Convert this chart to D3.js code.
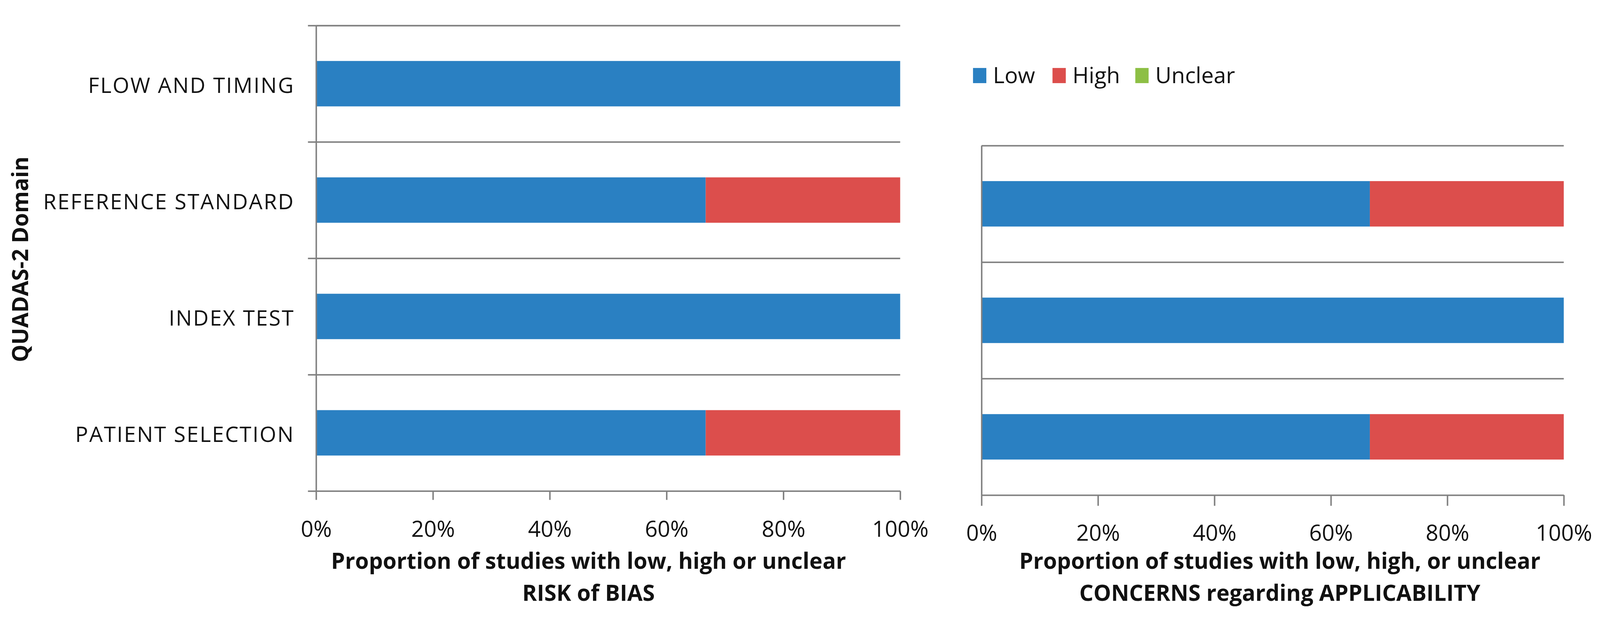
<!DOCTYPE html>
<html>
<head>
<meta charset="utf-8">
<script src="https://cdn.jsdelivr.net/npm/d3@7"></script>
<style>
  html, body { margin: 0; padding: 0; background: #fff; overflow: hidden; }
  svg { display: block; width: 100vw; height: 100vh; }
  text { font-family: "Open Sans", sans-serif; fill: #111; }
</style>
</head>
<body>
<svg></svg>
<script>
// data, top row first
const biasDomains = ['FLOW AND TIMING', 'REFERENCE STANDARD', 'INDEX TEST', 'PATIENT SELECTION']
const biasLow = [100, 66.7, 100, 66.7]
const biasHigh = [0, 33.3, 0, 33.3]
const biasUnclear = [0, 0, 0, 0]

const applDomains = ['REFERENCE STANDARD', 'INDEX TEST', 'PATIENT SELECTION']
const applLow = [66.7, 100, 66.7]
const applHigh = [33.3, 0, 33.3]
const applUnclear = [0, 0, 0]

const seriesNames = ['Low', 'High', 'Unclear']
const seriesColors = ['#2a80c2', '#dc4e4c', '#8dbf45']
const xTicks = [0, 20, 40, 60, 80, 100]

// 画布：用 viewBox，窗口多大都能完整显示
let width = 4328
let height = 1624
let svg = d3.select('svg')
    .attr('viewBox', '0 0 ' + width + ' ' + height)
    .attr('preserveAspectRatio', 'xMidYMid meet')
svg.append('rect').attr('width', width).attr('height', height).attr('fill', '#fff')

let color = d3.scaleOrdinal().domain(seriesNames).range(seriesColors)
let gray = '#808080'

function panel(opt) {
    let rows = opt.domains.map((d, i) => ({
        domain: d, Low: opt.low[i], High: opt.high[i], Unclear: opt.unclear[i]
    }))
    let stacked = d3.stack().keys(seriesNames)(rows)

    let x = d3.scaleLinear().domain([0, 100]).range([opt.left, opt.right])
    let y = d3.scaleBand().domain(opt.domains).range([opt.top, opt.bottom])
        .paddingInner(0.61).paddingOuter(0.305)
    // band boundaries for grid lines
    let yb = d3.scaleLinear().domain([0, opt.domains.length]).range([opt.top, opt.bottom])

    let g = svg.append('g')

    // horizontal grid lines at band edges
    g.append('g')
        .attr('transform', 'translate(' + opt.left + ',0)')
        .call(d3.axisLeft(yb).tickValues(d3.range(opt.domains.length)).tickFormat('')
            .tickSize(-(opt.right - opt.left)).tickSizeOuter(0))
        .call(s => s.select('.domain').remove())
        .call(s => s.selectAll('line').attr('stroke', gray).attr('stroke-width', 4))

    // bars
    g.selectAll('.series').data(stacked).enter()
        .append('g')
        .attr('fill', d => color(d.key))
        .selectAll('rect').data(d => d).enter()
        .append('rect')
        .attr('x', d => x(d[0]))
        .attr('width', d => x(d[1]) - x(d[0]))
        .attr('y', d => y(d.data.domain))
        .attr('height', y.bandwidth())

    // left axis line with outward ticks
    g.append('g')
        .attr('transform', 'translate(' + opt.left + ',0)')
        .call(d3.axisLeft(yb).tickValues(d3.range(opt.domains.length + 1))
            .tickFormat('').tickSize(opt.yTick).tickSizeOuter(0))
        .call(s => s.selectAll('line, path').attr('stroke', gray).attr('stroke-width', 4))

    // bottom axis
    g.append('g')
        .attr('transform', 'translate(0,' + opt.bottom + ')')
        .call(d3.axisBottom(x).tickValues(xTicks).tickFormat(d => d + '%')
            .tickSize(opt.xTick).tickSizeOuter(0).tickPadding(opt.labelY - opt.xTick))
        .call(s => s.selectAll('line, path').attr('stroke', gray).attr('stroke-width', 4))
        .call(s => s.selectAll('text').attr('font-size', 60).attr('fill', '#111')
            .attr('font-family', '"Open Sans", sans-serif'))

    // category labels
    if (opt.labels) {
        g.append('g')
            .attr('transform', 'translate(' + (opt.left - 58) + ',6)')
            .call(d3.axisLeft(y).tickSize(0).tickPadding(0))
            .call(s => s.select('.domain').remove())
            .call(s => s.selectAll('text').attr('font-size', 58).attr('fill', '#111')
                .attr('letter-spacing', 3)
                .attr('font-family', '"Open Sans", sans-serif'))
    }

    // axis title
    let t = g.append('text')
        .attr('text-anchor', 'middle')
        .attr('font-weight', 'bold')
        .attr('font-size', 60)
    t.append('tspan').attr('x', opt.titleX).attr('y', 1494).text(opt.title[0])
    t.append('tspan').attr('x', opt.titleX).attr('y', 1580).text(opt.title[1])
}

panel({
    domains: biasDomains, low: biasLow, high: biasHigh, unclear: biasUnclear,
    left: 855, right: 2435, top: 23, bottom: 1283,
    yTick: 22, xTick: 24, labelY: 81, labels: true, titleX: 1592,
    title: ['Proportion of studies with low, high or unclear', 'RISK  of BIAS']
})

panel({
    domains: applDomains, low: applLow, high: applHigh, unclear: applUnclear,
    left: 2655, right: 4230, top: 348, bottom: 1294,
    yTick: 0, xTick: 29, labelY: 81, labels: false, titleX: 3462,
    title: ['Proportion of studies with low, high, or unclear', 'CONCERNS regarding APPLICABILITY']
})

// y axis title
svg.append('text')
    .attr('transform', 'translate(76,656) rotate(-90)')
    .attr('text-anchor', 'middle')
    .attr('font-weight', 'bold')
    .attr('font-size', 60)
    .text('QUADAS-2 Domain')

// legend
let legendX = [2632, 2847, 3071]
let legend = svg.append('g').selectAll('g').data(seriesNames).enter()
    .append('g')
    .attr('transform', (d, i) => 'translate(' + legendX[i] + ',138)')
legend.append('rect')
    .attr('width', 36).attr('height', 41)
    .attr('fill', d => color(d))
legend.append('text')
    .attr('x', 54).attr('y', 41)
    .attr('font-size', 60)
    .text(d => d)
</script>
</body>
</html>
